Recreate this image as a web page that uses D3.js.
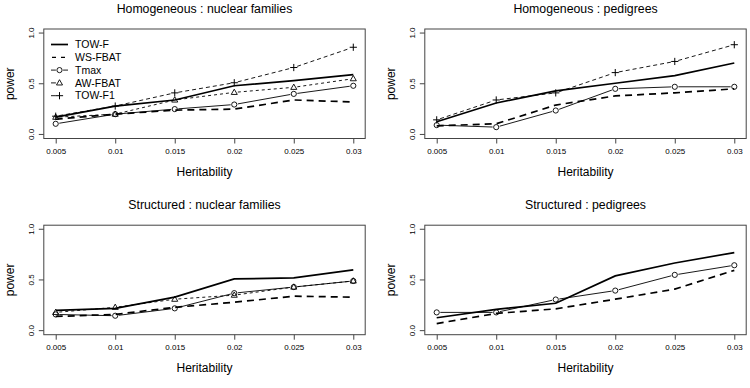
<!DOCTYPE html>
<html>
<head>
<meta charset="utf-8">
<script src="https://cdn.jsdelivr.net/npm/d3@7"></script>
<style>
  html, body { margin: 0; padding: 0; background: #fff; }
  svg { display: block; font-family: "Liberation Sans", Arial, sans-serif; }
</style>
</head>
<body>
<svg id="chart" width="750" height="388"></svg>
<script>
// ---------- data ----------
const heritability = [0.005, 0.01, 0.015, 0.02, 0.025, 0.03];
const xTickLabels = ["0.005", "0.01", "0.015", "0.02", "0.025", "0.03"];
const yTicks = [0, 0.5, 1];
const yTickLabels = ["0.0", "0.5", "1.0"];
const panelTitles = [
  "Homogeneous : nuclear families",
  "Homogeneous : pedigrees",
  "Structured : nuclear families",
  "Structured : pedigrees"
];
const methodNames = ["TOW-F", "WS-FBAT", "Tmax", "AW-FBAT", "TOW-F1"];

// Homogeneous : nuclear families
const homNucTOWF   = [0.17, 0.28, 0.34, 0.48, 0.53, 0.59];
const homNucWSFBAT = [0.15, 0.20, 0.24, 0.25, 0.34, 0.32];
const homNucTmax   = [0.105, 0.20, 0.25, 0.295, 0.40, 0.48];
const homNucAWFBAT = [0.17, 0.20, 0.34, 0.415, 0.465, 0.55];
const homNucTOWF1  = [0.18, 0.28, 0.41, 0.51, 0.66, 0.86];

// Homogeneous : pedigrees
const homPedTOWF   = [0.125, 0.31, 0.43, 0.505, 0.58, 0.705];
const homPedWSFBAT = [0.085, 0.105, 0.29, 0.38, 0.41, 0.45];
const homPedTmax   = [0.092, 0.072, 0.236, 0.45, 0.47, 0.47];
const homPedTOWF1  = [0.144, 0.34, 0.41, 0.61, 0.72, 0.885];

// Structured : nuclear families
const strNucTOWF   = [0.20, 0.22, 0.33, 0.51, 0.52, 0.60];
const strNucWSFBAT = [0.14, 0.16, 0.23, 0.28, 0.34, 0.33];
const strNucTmax   = [0.16, 0.147, 0.22, 0.37, 0.43, 0.49];
const strNucAWFBAT = [0.18, 0.23, 0.31, 0.35, 0.43, 0.49];

// Structured : pedigrees
const strPedTOWF   = [0.127, 0.21, 0.27, 0.54, 0.667, 0.77];
const strPedWSFBAT = [0.07, 0.17, 0.215, 0.31, 0.41, 0.595];
const strPedTmax   = [0.18, 0.18, 0.307, 0.395, 0.55, 0.645];

// ---------- styles ----------
const styles = {
  "TOW-F":   { width: 1.7, dash: null,  marker: null },
  "WS-FBAT": { width: 1.7, dash: "7,5", marker: null },
  "Tmax":    { width: 0.9, dash: null,  marker: "circle" },
  "AW-FBAT": { width: 0.9, dash: "3,3", marker: "triangle" },
  "TOW-F1":  { width: 0.9, dash: "4,3", marker: "plus" }
};

const panels = [
  { title: panelTitles[0], left: 43.8, top: 29, series: [
      ["TOW-F", homNucTOWF], ["WS-FBAT", homNucWSFBAT], ["Tmax", homNucTmax],
      ["AW-FBAT", homNucAWFBAT], ["TOW-F1", homNucTOWF1]], legend: true },
  { title: panelTitles[1], left: 424.8, top: 29, series: [
      ["TOW-F", homPedTOWF], ["WS-FBAT", homPedWSFBAT], ["Tmax", homPedTmax],
      ["TOW-F1", homPedTOWF1]] },
  { title: panelTitles[2], left: 43.8, top: 225.2, series: [
      ["TOW-F", strNucTOWF], ["WS-FBAT", strNucWSFBAT], ["Tmax", strNucTmax],
      ["AW-FBAT", strNucAWFBAT]] },
  { title: panelTitles[3], left: 424.8, top: 225.2, series: [
      ["TOW-F", strPedTOWF], ["WS-FBAT", strPedWSFBAT], ["Tmax", strPedTmax]] }
];

const boxW = 321.4, boxH = 109.5;
const svg = d3.select("#chart");
const boxColor = "#444";

function drawMarker(g, type, x, y) {
  if (type === "circle") {
    g.append("circle").attr("cx", x).attr("cy", y).attr("r", 2.6)
      .attr("fill", "none").attr("stroke", "#000").attr("stroke-width", 0.9);
  } else if (type === "triangle") {
    const s = 3.2;
    g.append("path").attr("d", `M${x},${y - s}L${x + s * 0.95},${y + s * 0.65}L${x - s * 0.95},${y + s * 0.65}Z`)
      .attr("fill", "none").attr("stroke", "#000").attr("stroke-width", 0.9);
  } else if (type === "plus") {
    const s = 3.6;
    g.append("path").attr("d", `M${x - s},${y}H${x + s}M${x},${y - s}V${y + s}`)
      .attr("stroke", "#000").attr("stroke-width", 1);
  }
}

panels.forEach(p => {
  const g = svg.append("g");
  const x = d3.scaleLinear().domain([0.004, 0.031]).range([p.left, p.left + boxW]);
  const y = d3.scaleLinear().domain([-0.04, 1.04]).range([p.top + boxH, p.top]);

  // title
  g.append("text").attr("x", p.left + boxW / 2).attr("y", p.top - 16)
    .attr("text-anchor", "middle").attr("font-size", 12.3).attr("fill", "#000")
    .text(p.title);

  // x axis
  const xAxis = d3.axisBottom(x).tickValues(heritability)
    .tickFormat((d, i) => xTickLabels[i]).tickSize(5).tickSizeOuter(0);
  const xa = g.append("g").attr("transform", `translate(0,${p.top + boxH})`).call(xAxis);
  xa.select(".domain").remove();
  xa.selectAll("line").attr("stroke", boxColor);
  xa.selectAll("text").attr("font-size", 8).attr("fill", "#000").attr("dy", "0.9em")
    .attr("font-family", "Liberation Sans, Arial, sans-serif");

  // y axis
  const yAxis = d3.axisLeft(y).tickValues(yTicks)
    .tickFormat((d, i) => yTickLabels[i]).tickSize(5).tickSizeOuter(0);
  const ya = g.append("g").attr("transform", `translate(${p.left},0)`).call(yAxis);
  ya.select(".domain").remove();
  ya.selectAll("line").attr("stroke", boxColor);
  ya.selectAll("text").attr("font-size", 8).attr("fill", "#000")
    .attr("font-family", "Liberation Sans, Arial, sans-serif")
    .attr("text-anchor", "middle").attr("dy", "0.32em")
    .attr("x", 0)
    .attr("transform", d => `translate(${-12},0) rotate(-90 0 ${y(d)})`)
    .attr("y", d => y(d));
  ya.selectAll(".tick").attr("transform", null);
  ya.selectAll(".tick line").attr("transform", d => `translate(0,${y(d)})`);

  // box
  g.append("rect").attr("x", p.left).attr("y", p.top).attr("width", boxW).attr("height", boxH)
    .attr("fill", "none").attr("stroke", boxColor).attr("stroke-width", 1);

  // axis titles
  g.append("text").attr("x", p.left + boxW / 2).attr("y", p.top + boxH + 37)
    .attr("text-anchor", "middle").attr("font-size", 12).attr("fill", "#000")
    .text("Heritability");
  g.append("text")
    .attr("transform", `translate(${p.left - 30},${p.top + boxH / 2}) rotate(-90)`)
    .attr("text-anchor", "middle").attr("font-size", 12).attr("fill", "#000")
    .text("power");

  // series
  p.series.forEach(([name, vals]) => {
    const st = styles[name];
    const pts = vals.map((v, i) => [x(heritability[i]), y(v)]);
    if (!st.marker) {
      g.append("path").datum(pts).attr("d", d3.line())
        .attr("fill", "none").attr("stroke", "#000").attr("stroke-width", st.width)
        .attr("stroke-dasharray", st.dash);
    } else {
      const gap = 3.6;
      for (let i = 0; i < pts.length - 1; i++) {
        const [x0, y0] = pts[i], [x1, y1] = pts[i + 1];
        const L = Math.hypot(x1 - x0, y1 - y0);
        if (L <= 2 * gap) continue;
        const ux = (x1 - x0) / L, uy = (y1 - y0) / L;
        g.append("line")
          .attr("x1", x0 + ux * gap).attr("y1", y0 + uy * gap)
          .attr("x2", x1 - ux * gap).attr("y2", y1 - uy * gap)
          .attr("stroke", "#000").attr("stroke-width", st.width)
          .attr("stroke-dasharray", st.dash);
      }
      pts.forEach(([px, py]) => drawMarker(g, st.marker, px, py));
    }
  });

  // legend
  if (p.legend) {
    const lx0 = 51, lx1 = 68, tx = 75, ly0 = 44.5, dy = 12.8;
    methodNames.forEach((name, i) => {
      const st = styles[name];
      const yy = ly0 + i * dy;
      if (!st.marker) {
        g.append("line").attr("x1", lx0).attr("x2", lx1).attr("y1", yy).attr("y2", yy)
          .attr("stroke", "#000").attr("stroke-width", name === "WS-FBAT" ? 1.3 : st.width)
          .attr("stroke-dasharray", name === "WS-FBAT" ? "4,5" : null)
          .attr("stroke-dashoffset", name === "WS-FBAT" ? -1 : 0);
      } else {
        const cx = (lx0 + lx1) / 2;
        g.append("line").attr("x1", lx0).attr("x2", cx - 3.6).attr("y1", yy).attr("y2", yy)
          .attr("stroke", "#000").attr("stroke-width", 0.9);
        if (name === "Tmax") {
          g.append("line").attr("x1", cx + 3.6).attr("x2", lx1).attr("y1", yy).attr("y2", yy)
            .attr("stroke", "#000").attr("stroke-width", 0.9);
        }
        drawMarker(g, st.marker, cx, yy);
      }
      g.append("text").attr("x", tx).attr("y", yy).attr("dy", "0.35em")
        .attr("font-size", 10.5).attr("fill", "#000").text(name);
    });
  }
});
</script>
</body>
</html>
